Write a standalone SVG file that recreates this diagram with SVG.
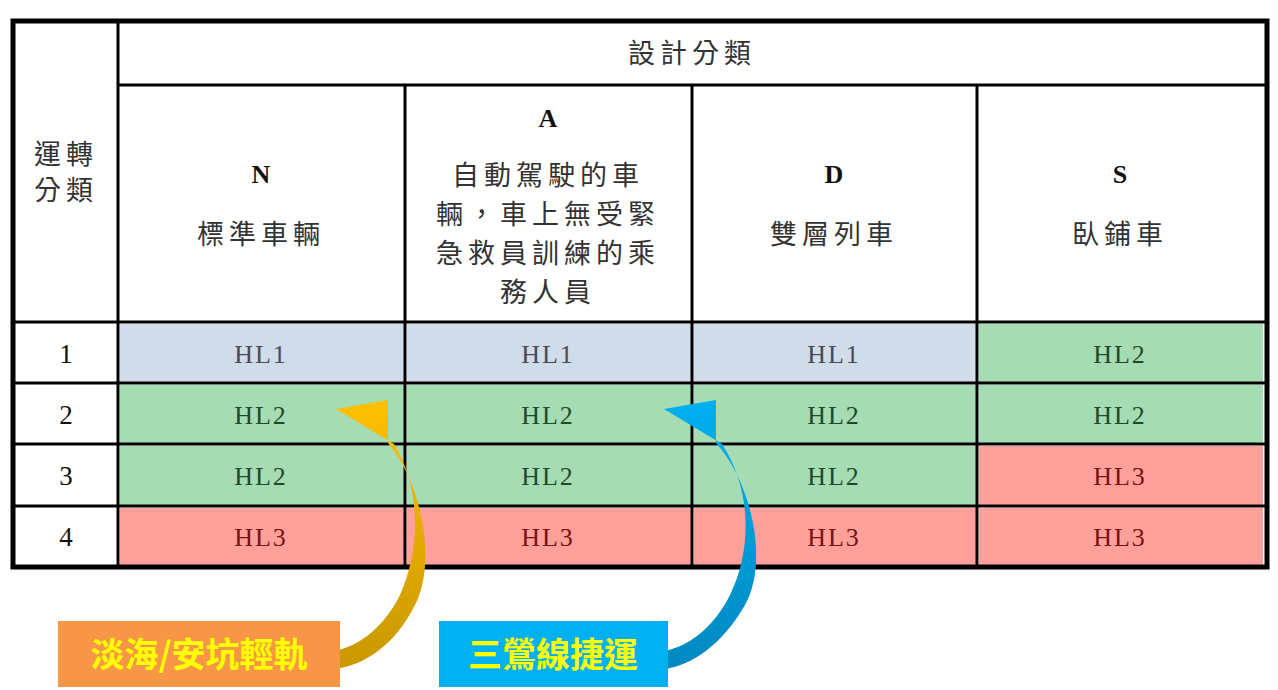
<svg xmlns="http://www.w3.org/2000/svg" width="1278" height="690" viewBox="0 0 1278 690">
<style>
.zh{font-family:"Noto Sans CJK TC","Noto Sans CJK SC",sans-serif;font-size:27px;fill:#333;letter-spacing:5px;text-anchor:middle}
.let{font-family:"Liberation Serif",serif;font-weight:bold;font-size:26px;fill:#111;text-anchor:middle}
.num{font-family:"Liberation Serif",serif;font-size:27px;fill:#111;text-anchor:middle}
.hl{font-family:"Liberation Serif",serif;font-size:26px;text-anchor:middle;letter-spacing:2px}
.b{fill:#D0DCEA}.g{fill:#A6DCB4}.r{fill:#FFA09A}
.t1{fill:#4a4a55}.t2{fill:#1f4a2a}.t3{fill:#7a1212}
.lbl{font-family:"Noto Sans CJK TC",sans-serif;font-size:34px;font-weight:bold;fill:#FFFF00;text-anchor:middle}
.ln{stroke:#000;stroke-width:3;fill:none}
</style>
<defs>
<linearGradient id="gy" x1="0" y1="0" x2="0" y2="1"><stop offset="0" stop-color="#FFC000"/><stop offset="1" stop-color="#C99800"/></linearGradient>
<linearGradient id="gb" x1="0" y1="0" x2="0" y2="1"><stop offset="0" stop-color="#00B0F0"/><stop offset="1" stop-color="#0088C0"/></linearGradient>
</defs>
<rect width="1278" height="690" fill="#fff"/>
<g id="cells">
<rect class="b" x="120" y="324" width="284" height="58"/><rect class="b" x="407" y="324" width="284" height="58"/><rect class="b" x="694" y="324" width="282" height="58"/><rect class="g" x="979" y="324" width="284" height="58"/>
<rect class="g" x="120" y="385" width="284" height="58"/><rect class="g" x="407" y="385" width="284" height="58"/><rect class="g" x="694" y="385" width="282" height="58"/><rect class="g" x="979" y="385" width="284" height="58"/>
<rect class="g" x="120" y="446" width="284" height="59"/><rect class="g" x="407" y="446" width="284" height="59"/><rect class="g" x="694" y="446" width="282" height="59"/><rect class="r" x="979" y="446" width="284" height="59"/>
<rect class="r" x="120" y="508" width="284" height="57"/><rect class="r" x="407" y="508" width="284" height="57"/><rect class="r" x="694" y="508" width="282" height="57"/><rect class="r" x="979" y="508" width="284" height="57"/>
</g>
<g id="grid">
<rect x="13" y="21" width="1254" height="546" fill="none" stroke="#000" stroke-width="5"/>
<path class="ln" d="M118 21V567M405 85V567M692 85V567M977 85V567M118 85H1267M13 322H1267M13 383H1267M13 444H1267M13 506H1267"/>
</g>
<g id="header">
<text class="zh" x="692" y="63">設計分類</text>
<text class="zh" x="66" y="164">運轉</text><text class="zh" x="66" y="200">分類</text>
<text class="let" x="261" y="183">N</text><text class="zh" x="261" y="244">標準車輛</text>
<text class="let" x="548" y="127">A</text>
<text class="zh" x="548" y="185">自動駕駛的車</text><text class="zh" x="548" y="224">輛，車上無受緊</text><text class="zh" x="548" y="263">急救員訓練的乘</text><text class="zh" x="548" y="302">務人員</text>
<text class="let" x="834" y="183">D</text><text class="zh" x="834" y="244">雙層列車</text>
<text class="let" x="1120" y="183">S</text><text class="zh" x="1120" y="244">臥鋪車</text>
</g>
<g id="rows">
<text class="num" x="66" y="363">1</text><text class="num" x="66" y="424">2</text><text class="num" x="66" y="485">3</text><text class="num" x="66" y="546">4</text>
<text class="hl t1" x="261" y="363">HL1</text><text class="hl t1" x="548" y="363">HL1</text><text class="hl t1" x="834" y="363">HL1</text><text class="hl t2" x="1120" y="363">HL2</text>
<text class="hl t2" x="261" y="424">HL2</text><text class="hl t2" x="548" y="424">HL2</text><text class="hl t2" x="834" y="424">HL2</text><text class="hl t2" x="1120" y="424">HL2</text>
<text class="hl t2" x="261" y="485">HL2</text><text class="hl t2" x="548" y="485">HL2</text><text class="hl t2" x="834" y="485">HL2</text><text class="hl t3" x="1120" y="485">HL3</text>
<text class="hl t3" x="261" y="546">HL3</text><text class="hl t3" x="548" y="546">HL3</text><text class="hl t3" x="834" y="546">HL3</text><text class="hl t3" x="1120" y="546">HL3</text>
</g>
<g id="connectors">
<path fill="url(#gy)" d="M336 409L388 400L388 463L388 443C420 480 438 560 415 605C395 645 365 665 335 669L335 651C362 645 385 625 400 595C420 550 422 490 394 444Z"/>
<path fill="url(#gb)" d="M664 409L716 400L716 463L716 443C750 480 770 560 745 605C722 645 692 665 665 669L665 651C692 645 715 625 730 595C752 550 752 490 722 444Z"/>
</g>
<g id="label1"><rect x="58" y="621" width="282" height="66" fill="#F79646"/><text class="lbl" x="199" y="667">淡海/安坑輕軌</text></g>
<g id="label2"><rect x="439" y="621" width="229" height="66" fill="#00B0F0"/><text class="lbl" x="553" y="667">三鶯線捷運</text></g>
</svg>
